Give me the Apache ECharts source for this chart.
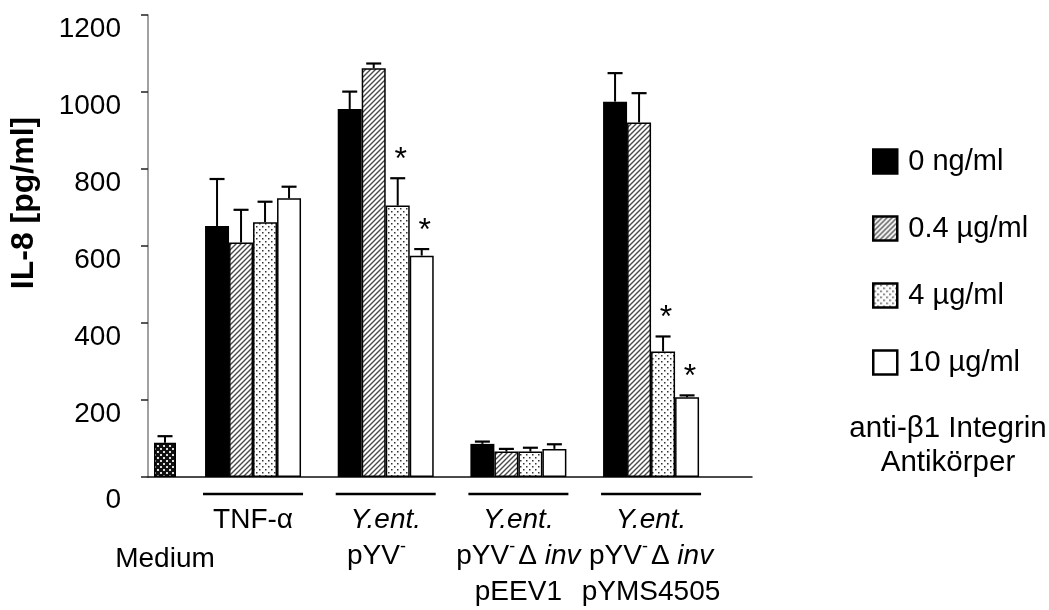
<!DOCTYPE html>
<html>
<head>
<meta charset="utf-8">
<script src="https://cdn.jsdelivr.net/npm/echarts@6/dist/echarts.min.js"></script>
<style>
  html, body { margin: 0; padding: 0; background: #fff; }
  #chart { width: 1049px; height: 610px; }
</style>
</head>
<body>
<div id="chart"></div>
<script>
// Treatment groups on the x axis (Medium is the untreated control)
const mediumLabel = 'Medium';
const categories = ['TNF', 'pYV', 'pEEV1', 'pYMS4505'];
const categoryLabels = [
  '{n|TNF-α}',
  '{i|Y.ent.}\n{n|pYV}{sup|-}{n|  }',
  '{i|Y.ent.}\n{n|pYV}{sup|-}{n|Δ }{i|inv}\n{n|pEEV1}',
  '{i|Y.ent.}\n{n|pYV}{sup|-}{n|Δ }{i|inv}\n{n|pYMS4505}'
];

// Antibody doses (legend)
const doseNames = ['0 ng/ml', '0.4 µg/ml', '4 µg/ml', '10 µg/ml'];

// IL-8 [pg/ml], mean and SD per dose and group
const mediumValue = [89];
const mediumError = [17];
const dose0 = [652, 956, 86, 975];
const dose0Err = [122, 45, 6, 74];
const dose04 = [609, 1062, 66, 921];
const dose04Err = [85, 12, 7, 76];
const dose4 = [662, 705, 66, 326];
const dose4Err = [53, 71, 10, 39];
const dose10 = [724, 575, 73, 207];
const dose10Err = [30, 17, 12, 5];
// significance marks (*) per group
const dose4Sig = [0, 1, 0, 1];
const dose10Sig = [0, 1, 0, 1];

// y axis
const yMin = 0, yMax = 1200, yStep = 200;
const yTitle = 'IL-8 [pg/ml]';
const legendNote = 'anti-β1 Integrin\nAntikörper';

const FONT = '"Liberation Sans", Arial, sans-serif';
const BAR_W = 24;
const CAP = 7.5;

function makePattern(size, draw) {
  const c = document.createElement('canvas');
  c.width = size; c.height = size;
  const ctx = c.getContext('2d');
  draw(ctx, size);
  return { image: c, repeat: 'repeat' };
}
const hatch = makePattern(5, (ctx, s) => {
  ctx.fillStyle = '#fff'; ctx.fillRect(0, 0, s, s);
  ctx.strokeStyle = '#4a4a4a'; ctx.lineWidth = 1.4;
  ctx.beginPath();
  ctx.moveTo(-1, s + 1); ctx.lineTo(s + 1, -1);
  ctx.moveTo(-1, 1); ctx.lineTo(1, -1);
  ctx.moveTo(s - 1, s + 1); ctx.lineTo(s + 1, s - 1);
  ctx.stroke();
});
const stipple = makePattern(6, (ctx, s) => {
  ctx.fillStyle = '#fff'; ctx.fillRect(0, 0, s, s);
  ctx.fillStyle = '#333';
  ctx.fillRect(1, 1, 1.5, 1.5);
  ctx.fillRect(4, 4, 1.5, 1.5);
});
const darkStipple = makePattern(6, (ctx, s) => {
  ctx.fillStyle = '#111'; ctx.fillRect(0, 0, s, s);
  ctx.fillStyle = '#ddd';
  ctx.fillRect(1, 1, 2, 2);
  ctx.fillRect(4, 4, 2, 2);
});

const doseValues = [dose0, dose04, dose4, dose10];
const doseErrors = [dose0Err, dose04Err, dose4Err, dose10Err];
const doseSig = [[0, 0, 0, 0], [0, 0, 0, 0], dose4Sig, dose10Sig];
const doseFills = ['#000', hatch, stipple, '#fff'];

function renderError(params, api) {
  const cat = api.value(0), v = api.value(1), e = api.value(2);
  const slot = api.value(3), sig = api.value(4);
  const base = api.coord([cat, v]);
  const top = api.coord([cat, v + e]);
  const x = base[0] + slot * BAR_W;
  const children = [
    { type: 'line', shape: { x1: x, y1: base[1], x2: x, y2: top[1] }, style: { stroke: '#000', lineWidth: 2 } },
    { type: 'line', shape: { x1: x - CAP, y1: top[1], x2: x + CAP, y2: top[1] }, style: { stroke: '#000', lineWidth: 2.2 } }
  ];
  if (sig) {
    children.push({
      type: 'text', x: x + 3, y: top[1] - 2,
      style: { text: '*', font: '32px ' + FONT, fill: '#000', align: 'center', verticalAlign: 'bottom' }
    });
  }
  return { type: 'group', children };
}

const errorData = [];
doseValues.forEach((vals, k) => {
  vals.forEach((v, i) => errorData.push([i, v, doseErrors[k][i], k - (doseValues.length - 1) / 2, doseSig[k][i]]));
});

const yAxisBase = { type: 'value', min: yMin, max: yMax, interval: yStep };
const gridTop = 15, gridHeight = 462;

const series = doseNames.map((name, k) => ({
  name, type: 'bar', xAxisIndex: 2, yAxisIndex: 2,
  barWidth: BAR_W, barGap: '0%',
  itemStyle: { color: doseFills[k], borderColor: '#000', borderWidth: k === 0 ? 0 : 1.5 },
  data: doseValues[k]
}));
series.push({
  type: 'custom', xAxisIndex: 2, yAxisIndex: 2, renderItem: renderError,
  encode: { x: 0, y: 1 }, data: errorData, z: 5, silent: true
});
series.push({
  name: mediumLabel, type: 'bar', xAxisIndex: 1, yAxisIndex: 1, barWidth: 22,
  itemStyle: { color: darkStipple, borderColor: '#000', borderWidth: 1.5 },
  data: mediumValue
});
series.push({
  type: 'custom', xAxisIndex: 1, yAxisIndex: 1, renderItem: renderError,
  encode: { x: 0, y: 1 }, data: mediumValue.map((v, i) => [i, v, mediumError[i], 0, 0]), z: 5, silent: true
});

const chart = echarts.init(document.getElementById('chart'), null, { renderer: 'canvas' });
chart.setOption({
  animation: false,
  backgroundColor: '#fff',
  textStyle: { fontFamily: FONT, color: '#000' },
  grid: [
    { left: 148, top: gridTop, width: 604, height: gridHeight, outerBoundsMode: 'none' },
    { left: 148, top: gridTop, width: 34, height: gridHeight, outerBoundsMode: 'none' },
    { left: 186.7, top: gridTop, width: 530.7, height: gridHeight, outerBoundsMode: 'none' }
  ],
  xAxis: [
    { gridIndex: 0, type: 'category', data: [''], axisLine: { lineStyle: { color: '#111', width: 1.5 } },
      axisTick: { show: false }, axisLabel: { show: false }, splitLine: { show: false } },
    { gridIndex: 1, type: 'category', data: [mediumLabel], axisLine: { show: false }, axisTick: { show: false },
      axisLabel: { margin: 68, fontSize: 28, color: '#000', fontFamily: FONT, interval: 0 } },
    { gridIndex: 2, type: 'category', data: categories, axisLine: { show: false }, axisTick: { show: false },
      axisLabel: {
        margin: 25, interval: 0, color: '#000',
        formatter: (val, idx) => categoryLabels[idx],
        rich: {
          n: { fontSize: 28, lineHeight: 36, fontFamily: FONT, color: '#000' },
          i: { fontSize: 28, lineHeight: 36, fontFamily: FONT, fontStyle: 'italic', color: '#000' },
          sup: { fontSize: 18, lineHeight: 36, fontFamily: FONT, color: '#000', verticalAlign: 'top', padding: [0, 3, 16, 0] }
        }
      } }
  ],
  yAxis: [
    Object.assign({ gridIndex: 0 }, yAxisBase, {
      name: yTitle, nameLocation: 'middle', nameRotate: 90, nameGap: 108,
      nameTextStyle: { fontSize: 32, fontWeight: 'bold', color: '#000', fontFamily: FONT, padding: [0, 0, 0, 86] },
      axisLine: { show: true, lineStyle: { color: '#808080', width: 1.5 } },
      axisTick: { show: true, length: 7, lineStyle: { color: '#222', width: 1.5 } },
      splitLine: { show: false },
      axisLabel: {
        margin: 27, fontSize: 28, color: '#000', fontFamily: FONT, verticalAlign: 'top',
        formatter: v => v === 0 ? '{z|0}' : String(v),
        rich: { z: { fontSize: 28, fontFamily: FONT, color: '#000', padding: [9, 0, 0, 0] } }
      }
    }),
    Object.assign({ gridIndex: 1, show: false }, yAxisBase),
    Object.assign({ gridIndex: 2, show: false }, yAxisBase)
  ],
  legend: {
    data: doseNames, orient: 'vertical', left: 872, top: 147, padding: 0, icon: 'rect',
    itemWidth: 24, itemHeight: 24, itemGap: 38, selectedMode: false,
    itemStyle: { borderColor: '#000', borderWidth: 2.5 },
    textStyle: { fontSize: 29, lineHeight: 28, color: '#000', fontFamily: FONT, padding: [0, 0, 0, 6] }
  },
  series
});

// group underlines below the axis, centred on each category
const underlineHalf = 50;
const underlineY = 494;
const graphics = categories.map((c, i) => {
  const cx = chart.convertToPixel({ xAxisIndex: 2 }, c);
  return { id: 'ul' + i, type: 'line', shape: { x1: cx - underlineHalf, y1: underlineY, x2: cx + underlineHalf, y2: underlineY },
    style: { stroke: '#000', lineWidth: 2.5 }, silent: true };
});
graphics.push({
  id: 'note', type: 'text', x: 948, y: 412,
  style: { text: legendNote, font: '29.5px ' + FONT, fill: '#000', align: 'center', lineHeight: 34 }
});
chart.setOption({ graphic: graphics });
</script>
</body>
</html>
